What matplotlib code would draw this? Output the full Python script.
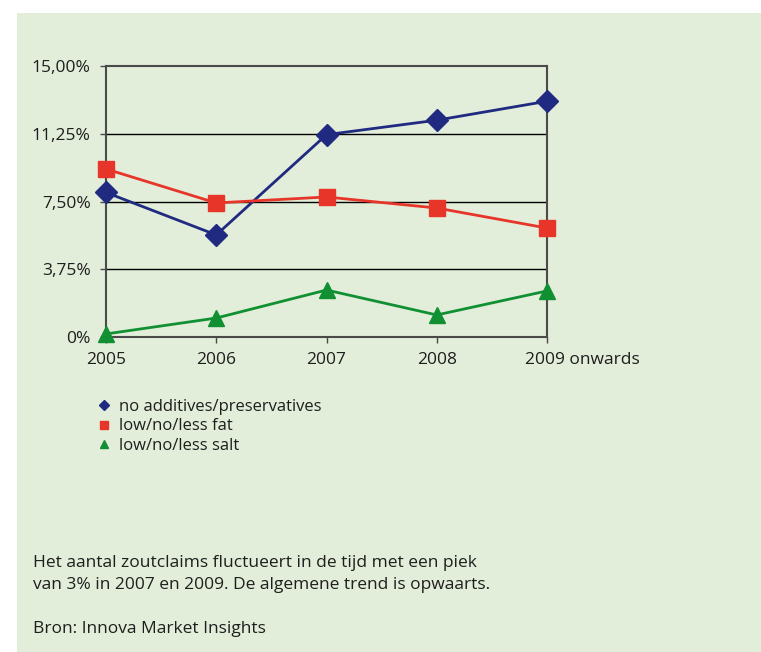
import matplotlib.pyplot as plt
import matplotlib.transforms as mtransforms
import numpy as np

plt.rcParams['font.family'] = ['Open Sans', 'DejaVu Sans']

years = ['2005', '2006', '2007', '2008', '2009 onwards']
additives = [8.0, 5.65, 11.2, 12.0, 13.05]
fat = [9.3, 7.42, 7.75, 7.14, 6.03]
salt = [0.17, 1.05, 2.6, 1.22, 2.55]
yticks = [0, 3.75, 7.5, 11.25, 15.0]
ytick_labels = ['0%', '3,75%', '7,50%', '11,25%', '15,00%']

bg = '#e2eed9'
W, H = 761, 652
fig = plt.figure(figsize=(W / 100, H / 100), dpi=100)
fig.patch.set_facecolor('white')
fig.patches.append(plt.Rectangle((17 / W, 0), 1 - 17 / W, 1 - 13 / H,
                                 transform=fig.transFigure, facecolor=bg,
                                 edgecolor='none', zorder=-10))

ax = fig.add_axes([106 / W, 1 - 337 / H, (547 - 106) / W, (337 - 66) / H])
ax.set_facecolor(bg)
x = np.arange(len(years))

for yv in yticks[1:-1]:
    ax.axhline(yv, color='black', lw=1.0, zorder=1)

ax.plot(x, additives, color='#1f2a80', lw=2, marker='D', markersize=11,
        label='no additives/preservatives', zorder=3, clip_on=False)
ax.plot(x, fat, color='#e8352a', lw=2, marker='s', markersize=11,
        label='low/no/less fat', zorder=3, clip_on=False)
ax.plot(x, salt, color='#119033', lw=2, marker='^', markersize=12,
        label='low/no/less salt', zorder=3, clip_on=False)

ax.set_xlim(0, len(years) - 1)
ax.set_ylim(0, 15)
ax.set_yticks(yticks)
ax.set_yticklabels(ytick_labels)
ax.set_xticks(x)
ax.set_xticklabels(years)
ax.tick_params(axis='both', labelsize=12.5, colors='#4a4a4a', labelcolor='#1e1e1e',
               length=4, width=1, direction='out')
ax.tick_params(axis='y', pad=7)
ax.tick_params(axis='x', pad=7)
# "2009" sits over the tick, "onwards" trails to the right
last = ax.get_xticklabels()[-1]
last.set_horizontalalignment('left')
last.set_transform(last.get_transform() +
                   mtransforms.ScaledTranslation(-22 / 100, 0, fig.dpi_scale_trans))
for sp in ax.spines.values():
    sp.set_color('#4a4a4a')
    sp.set_linewidth(1.5)

leg = fig.legend(loc='upper left', bbox_to_anchor=(81 / W, 1 - 384 / H),
                 frameon=False, fontsize=12, markerscale=0.5,
                 handlelength=0.9, handletextpad=0.5, labelspacing=0.2)
for h in leg.legend_handles:
    h.set_linestyle('none')
for t in leg.get_texts():
    t.set_color('#1e1e1e')

txt_kw = dict(fontsize=12.5, color='#1e1e1e', va='baseline')
fig.text(33 / W, 1 - 567 / H,
         'Het aantal zoutclaims fluctueert in de tijd met een piek', **txt_kw)
fig.text(33 / W, 1 - 589 / H,
         'van 3% in 2007 en 2009. De algemene trend is opwaarts.', **txt_kw)
fig.text(33 / W, 1 - 633 / H, 'Bron: Innova Market Insights', **txt_kw)

fig.savefig('out.png', dpi=100, facecolor='white')
